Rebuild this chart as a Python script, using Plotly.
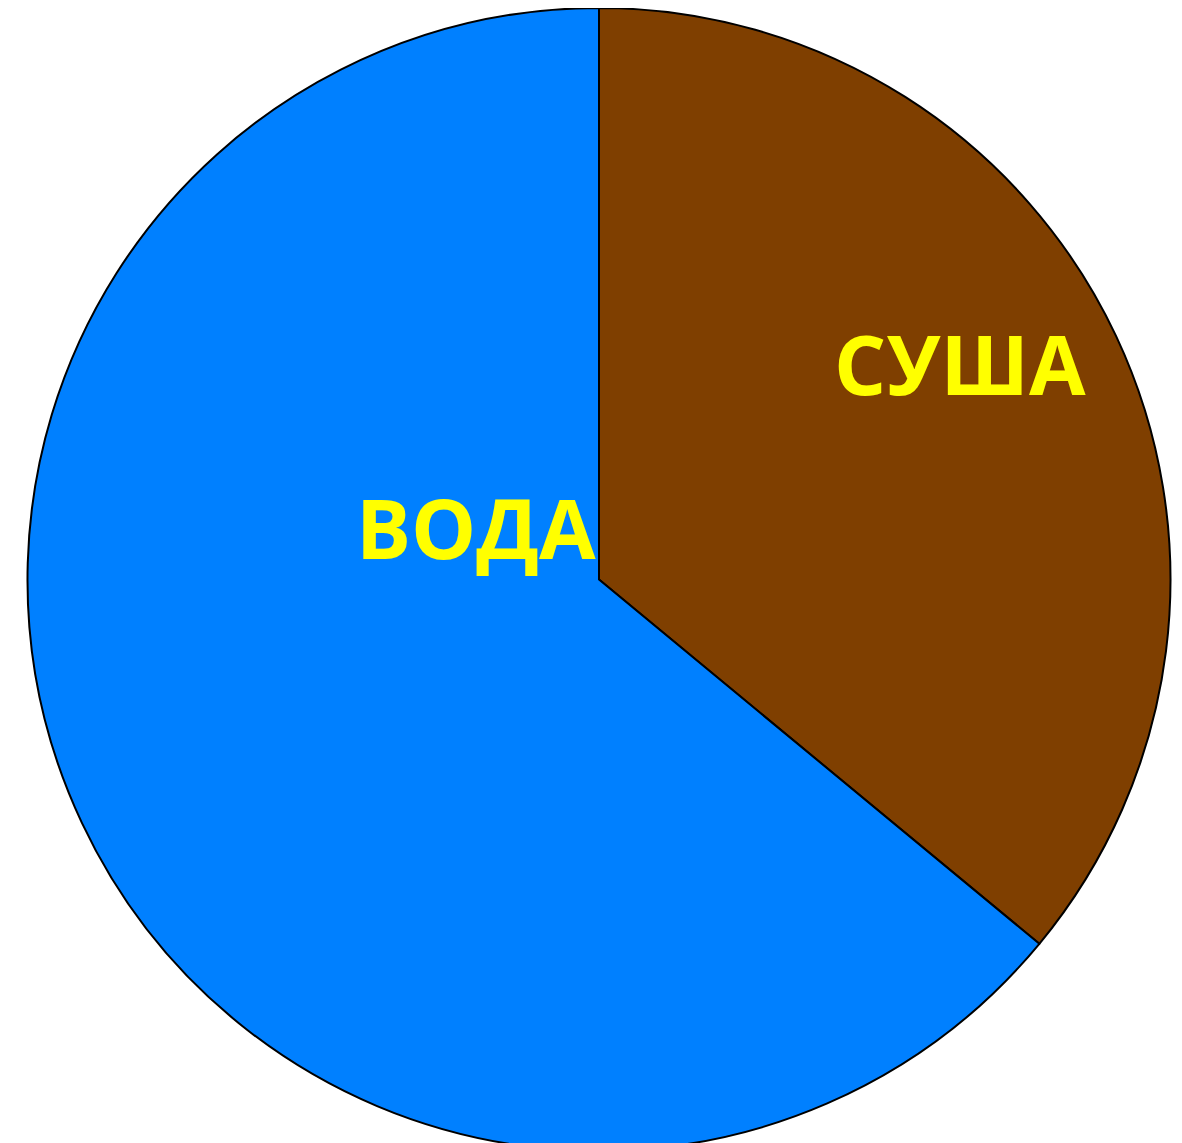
import plotly.graph_objects as go

labels = ["СУША", "ВОДА"]
values = [36, 64]
colors = ["#7F3F00", "#0080FF"]

fig = go.Figure(go.Pie(
    labels=labels,
    values=values,
    marker=dict(colors=colors, line=dict(color="black", width=2)),
    sort=False,
    direction="clockwise",
    rotation=0,
    textinfo="none",
    hoverinfo="label+percent",
    domain=dict(x=[0, 1], y=[0, 1]),
))

label_pos = {"СУША": (0.805, 0.689), "ВОДА": (0.396, 0.546)}
for lab in labels:
    x, y = label_pos[lab]
    fig.add_annotation(
        x=x, y=y, xref="paper", yref="paper",
        text=f"<b>{lab}</b>", showarrow=False,
        xanchor="center", yanchor="middle",
        font=dict(family="Open Sans", size=82, color="#FFFF00"),
    )

fig.update_layout(
    width=1182, height=1143,
    margin=dict(l=0, r=0, t=0, b=0),
    showlegend=False,
    paper_bgcolor="white",
    plot_bgcolor="white",
)

fig.write_html("out.html")
